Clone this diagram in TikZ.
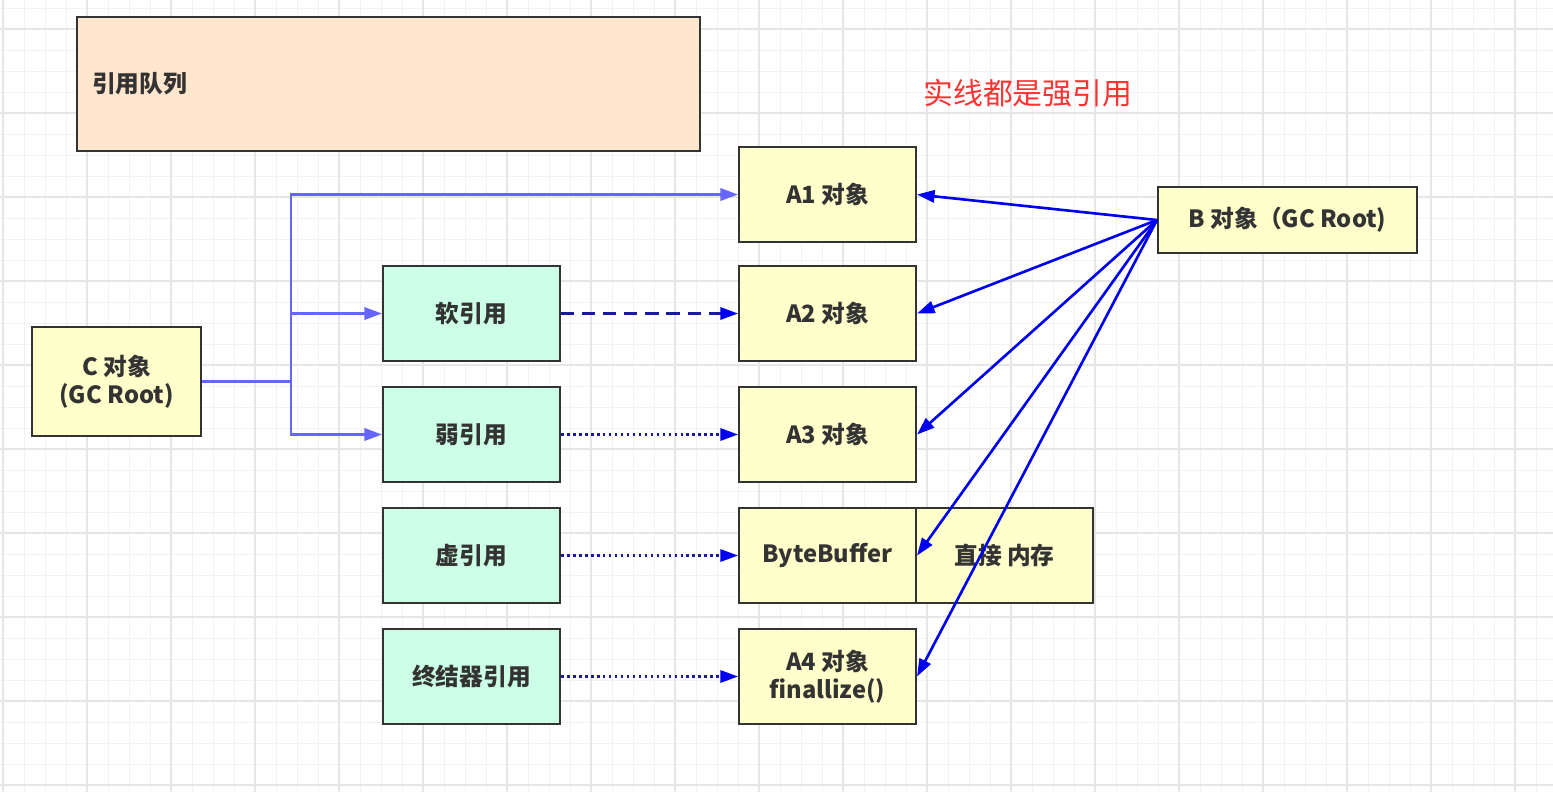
\documentclass[tikz,border=0pt]{standalone}
\usepackage{fontspec}
\setmainfont{Noto Sans CJK SC}
\usetikzlibrary{arrows.meta}

\definecolor{objfill}{HTML}{FFFFCC}
\definecolor{reffill}{HTML}{CCFFE6}
\definecolor{queuefill}{HTML}{FFE6CC}
\definecolor{boxline}{HTML}{333333}
\definecolor{cblue}{HTML}{6666FF}
\definecolor{bblue}{HTML}{0000F0}
\definecolor{navy}{HTML}{1A1AA0}
\definecolor{notered}{HTML}{FF3333}
\definecolor{gridminor}{HTML}{F2F2F2}
\definecolor{gridmajor}{HTML}{E6E6E6}

\tikzset{
  box/.style={draw=boxline, line width=1.2pt, text=boxline, inner sep=0pt,
    font=\fontsize{13.5}{16}\selectfont\bfseries, align=center},
  objbox/.style={box, fill=objfill, minimum width=3.54cm, minimum height=1.9cm},
  refbox/.style={box, fill=reffill, minimum width=3.54cm, minimum height=1.9cm},
  tip/.style={-{Triangle[length=10pt,width=7pt]}},
  bluetip/.style={-{Triangle[length=10pt,width=7pt,color=bblue]}},
  cline/.style={draw=cblue, line width=1.4pt},
  bline/.style={tip, draw=bblue, line width=1.5pt},
  softline/.style={bluetip, draw=navy, line width=1.3pt, dash pattern=on 7.5pt off 4.5pt},
  dotline/.style={bluetip, draw=navy, line width=1.3pt, dash pattern=on 1.5pt off 1.9pt},
}

\begin{document}
\begin{tikzpicture}[x=0.02cm,y=-0.02cm]
\useasboundingbox (0,0) rectangle (1553,792);
\fill[white] (0,0) rectangle (1553,792);
% background grid
\foreach \gx in {3,24,...,1553} \draw[gridminor, line width=0.5pt] (\gx,0) -- (\gx,792);
\foreach \gy in {8,29,...,792} \draw[gridminor, line width=0.5pt] (0,\gy) -- (1553,\gy);
\foreach \gx in {3,87,...,1553} \draw[gridmajor, line width=0.6pt] (\gx,0) -- (\gx,792);
\foreach \gy in {29,113,...,792} \draw[gridmajor, line width=0.6pt] (0,\gy) -- (1553,\gy);

\node[box, fill=queuefill, minimum width=12.46cm, minimum height=2.68cm,
  text width=11.86cm, align=left] (queue) at (388.5,84) {引用队列};
\node[text=notered, font=\fontsize{17}{20}\selectfont, anchor=west, inner sep=0pt] (note) at (923,93) {实线都是强引用};

\node[box, fill=objfill, minimum width=3.38cm, minimum height=2.18cm] (cobj) at (116.5,381.5) {C 对象\\(GC Root)};
\node[box, fill=objfill, minimum width=5.18cm, minimum height=1.32cm] (bobj) at (1287.5,220) {B 对象（GC Root)};

\node[objbox] (a1) at (827.5,194.5) {A1 对象};
\node[objbox] (a2) at (827.5,313.5) {A2 对象};
\node[objbox] (a3) at (827.5,434.5) {A3 对象};
\node[objbox] (buf) at (827.5,555.5) {ByteBuffer};
\node[objbox] (mem) at (1004.5,555.5) {直接 内存};
\node[objbox] (a4) at (827.5,676.5) {A4 对象\\finallize()};

\node[refbox] (soft) at (471.5,313.5) {软引用};
\node[refbox] (weak) at (471.5,434.5) {弱引用};
\node[refbox] (phantom) at (471.5,555.5) {虚引用};
\node[refbox] (final) at (471.5,676.5) {终结器引用};

% C root
\coordinate (fork) at (291,381.5);
\draw[cline] (cobj.east) -- (fork);
\draw[cline, tip] (fork) |- (a1.west);
\draw[cline, tip] (fork) |- (soft.west);
\draw[cline, tip] (fork) |- (weak.west);

% references
\draw[softline] (soft.east) -- (a2.west);
\draw[dotline] (weak.east) -- (a3.west);
\draw[dotline] (phantom.east) -- (buf.west);
\draw[dotline] (final.east) -- (a4.west);

% B root
\draw[bline] (bobj.west) -- (a1.east);
\draw[bline] (bobj.west) -- (a2.east);
\draw[bline] (bobj.west) -- (a3.east);
\draw[bline] (bobj.west) -- (buf.east);
\draw[bline] (bobj.west) -- (a4.east);
\end{tikzpicture}
\end{document}
